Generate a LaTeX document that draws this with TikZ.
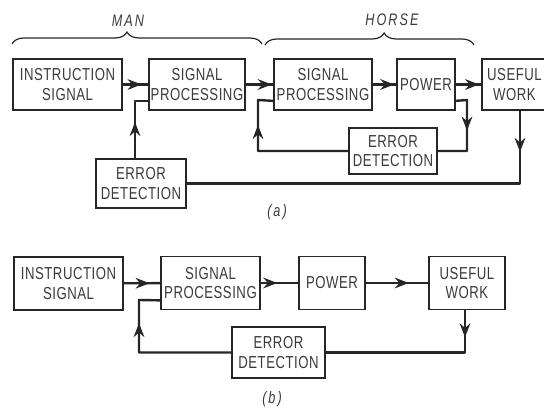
\documentclass[tikz,border=0pt]{standalone}
\usepackage{fontspec}
\setmainfont{Liberation Sans}[FakeStretch=0.76,LetterSpace=3]
\usetikzlibrary{arrows.meta,calc,decorations.markings,decorations.pathreplacing}

\definecolor{ink}{HTML}{262626}
\definecolor{lettering}{HTML}{3A3A3A}

\tikzset{
  blk/.style={draw=ink, line width=1.3pt, align=center, inner sep=0.75pt, text=lettering,
    font=\fontsize{13}{14.5}\selectfont},
  flow/.style={draw=ink, line width=1.8pt, line join=round},
  tipat/.style={postaction={decorate}, decoration={markings,
    mark=at position #1 with {\arrow{Stealth[length=10.5pt,width=8pt,inset=3.5pt]}}}},
  tipat/.default=0.5,
  lbl/.style={text=lettering, font=\itshape\fontsize{12.5}{13}\selectfont\addfontfeature{LetterSpace=12}},
  grp/.style={draw=ink, line width=0.9pt, decorate, decoration={brace, amplitude=9pt, aspect=#1}},
}

\begin{document}
\begin{tikzpicture}[x=0.75pt,y=0.75pt,yscale=-1,xscale=1]
\useasboundingbox (0,0) rectangle (544,409);

%Shape: Brace [id:man]
\draw [grp=0.46] (12,44) -- (262,44);
%Shape: Brace [id:horse]
\draw [grp=0.57] (265,45) -- (474,45);
% Text Node
\node [lbl] (man) at (128,21) {MAN};
% Text Node
\node [lbl] (horse) at (392,20) {HORSE};

%%% (a)
% Blocks
\node [blk, minimum width=109*0.75pt, minimum height=51*0.75pt] (isa) at (67.5,84.5) {INSTRUCTION\\SIGNAL};
\node [blk, minimum width=96*0.75pt, minimum height=51*0.75pt] (spa) at (197,84.5) {SIGNAL\\PROCESSING};
\node [blk, minimum width=98*0.75pt, minimum height=51*0.75pt] (spb) at (323,84.5) {SIGNAL\\PROCESSING};
\node [blk, minimum width=58*0.75pt, minimum height=51*0.75pt] (pwa) at (426,84.5) {POWER};
\node [blk, minimum width=65*0.75pt, minimum height=51*0.75pt] (uwa) at (514.5,84.5) {USEFUL\\WORK};
\node [blk, minimum width=88*0.75pt, minimum height=46*0.75pt] (eda) at (393,151) {ERROR\\DETECTION};
\node [blk, minimum width=90*0.75pt, minimum height=49*0.75pt] (edm) at (141,183.5) {ERROR\\DETECTION};

% Forward path
\draw [flow, tipat=0.74] (isa) -- (spa);
\draw [flow, tipat=0.95] (spa) -- (spb);
\draw [flow, tipat=0.92] (spb) -- (pwa);
\draw [flow, tipat=0.92] (pwa) -- (uwa);

% Inner loop (horse)
\coordinate (pwo) at ($(pwa.south east)+(0,-10)$);
\coordinate (fb1) at (467,100);
\coordinate (fb2) at (258,100);
\coordinate (spbin) at ($(spb.south west)+(0,-10)$);
\draw [flow] (pwo) -- (fb1) |- (eda.east);
\draw [flow, tipat=0.6] (fb1) -- (fb1 |- eda.east);
\draw [flow] (eda.west) -| (fb2) -- (spbin);
\draw [flow, tipat=0.51] (fb2 |- eda.west) -- (fb2);

% Outer loop (man)
\coordinate (uwo) at (520,110);
\coordinate (edo) at ($(edm.north)+(-6,0)$);
\coordinate (spain) at ($(spa.south west)+(0,-10)$);
\draw [flow] (uwo) |- (edm.east);
\draw [flow, tipat=0.57] (uwo) -- (uwo |- edm.east);
\draw [flow] (edo) |- (spain);
\draw [flow, tipat=0.63] (edo) -- (edo |- spain);

% Text Node
\node [lbl] (capa) at (277,212) {(a)};

%%% (b)
% Blocks
\node [blk, minimum width=109*0.75pt, minimum height=53*0.75pt] (isb) at (68.5,283.5) {INSTRUCTION\\SIGNAL};
\node [blk, minimum width=99*0.75pt, minimum height=53*0.75pt] (spc) at (210.5,283) {SIGNAL\\PROCESSING};
\node [blk, minimum width=66*0.75pt, minimum height=53*0.75pt] (pwb) at (332,283) {POWER};
\node [blk, minimum width=76*0.75pt, minimum height=53*0.75pt] (uwb) at (467,283) {USEFUL\\WORK};
\node [blk, minimum width=93*0.75pt, minimum height=51*0.75pt] (edb) at (278.5,352.5) {ERROR\\DETECTION};

% Forward path
\draw [flow, tipat=0.71] (isb) -- (spc);
\draw [flow, tipat=0.44] (spc) -- (pwb);
\draw [flow, tipat=0.69] (pwb) -- (uwb);

% Feedback loop
\coordinate (uwbo) at ($(uwb.south)+(-2,0)$);
\coordinate (fb4) at (139,300);
\coordinate (spcin) at ($(spc.south west)+(0,-10)$);
\draw [flow] (uwbo) |- (edb.east);
\draw [flow, tipat=0.64] (uwbo) -- (uwbo |- edb.east);
\draw [flow] (edb.west) -| (fb4) -- (spcin);
\draw [flow, tipat=0.56] (fb4 |- edb.west) -- (fb4);

% Text Node
\node [lbl] (capb) at (272,399) {(b)};

\end{tikzpicture}
\end{document}
